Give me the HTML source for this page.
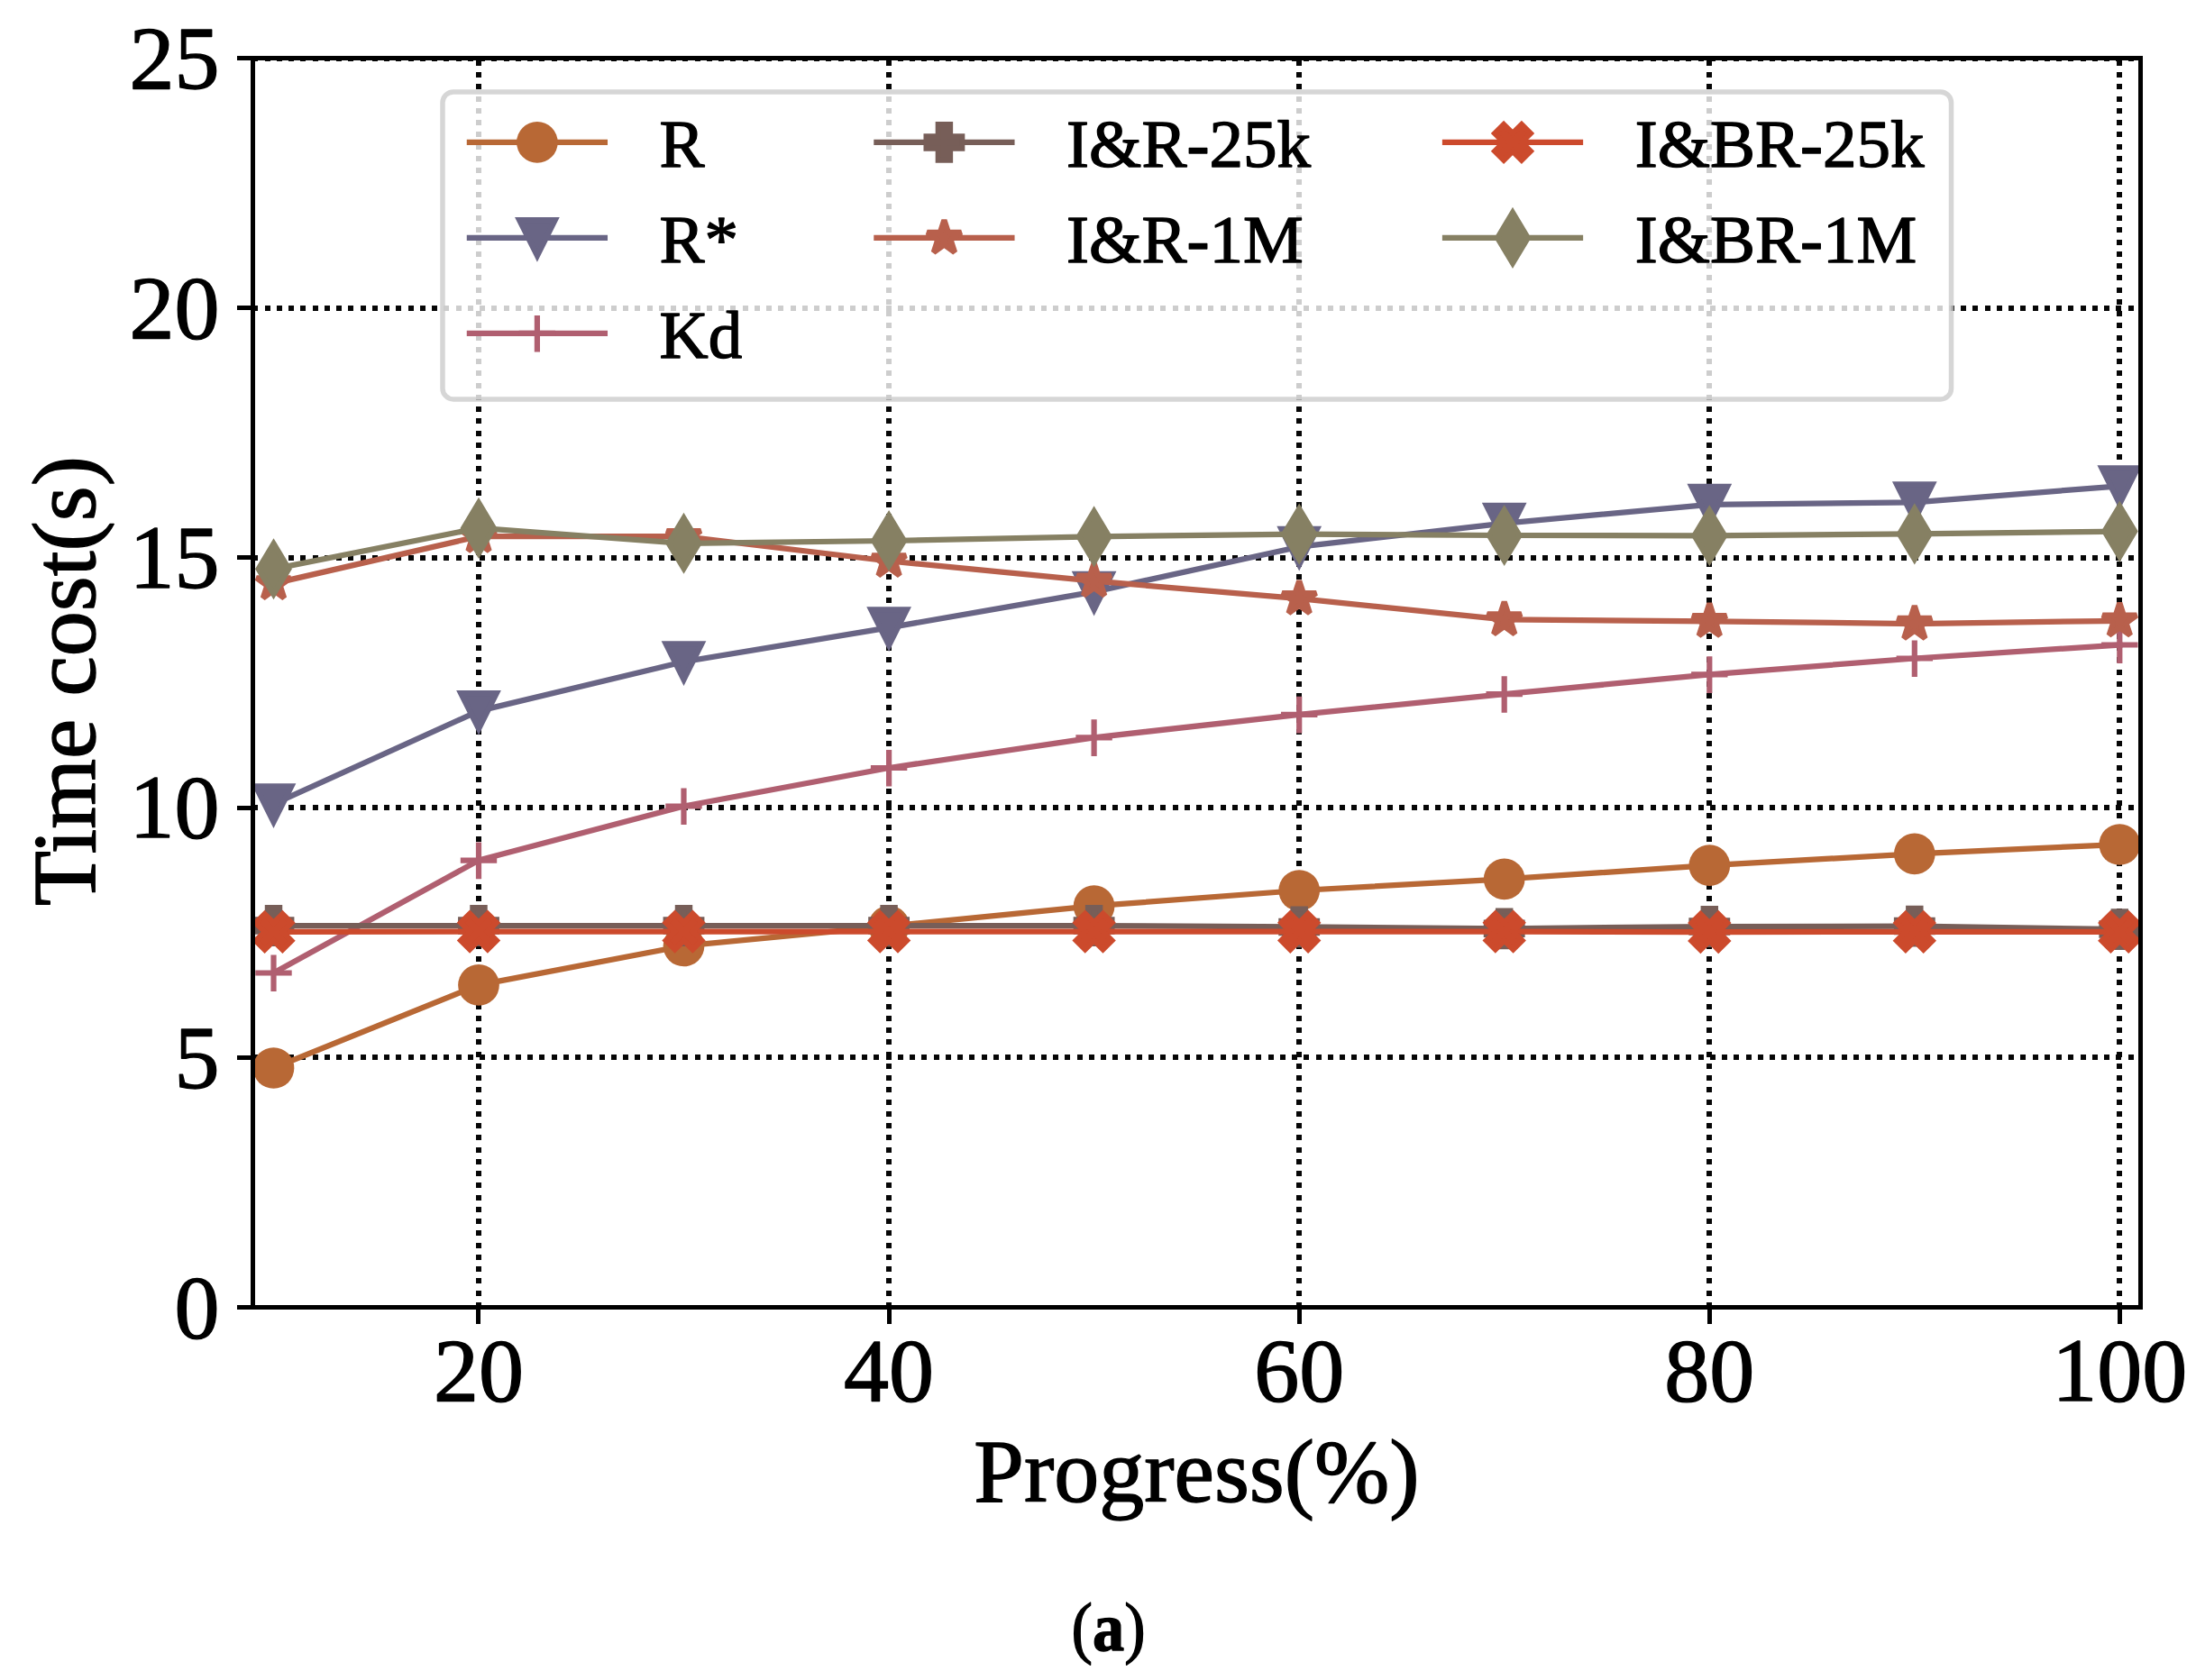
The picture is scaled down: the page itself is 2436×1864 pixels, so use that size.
<!DOCTYPE html>
<html lang="en"><head><meta charset="utf-8"><title>Time cost vs Progress</title>
<style>html,body{margin:0;padding:0;background:#fff}svg{display:block}text{font-family:"Liberation Serif","Times New Roman",serif;fill:#000;stroke:#000;stroke-width:1.4px;stroke-linejoin:round}</style></head><body>
<svg width="2436" height="1864" viewBox="0 0 2436 1864">
<rect width="2436" height="1864" fill="#fff"/>
<defs>
<clipPath id="ax"><rect x="280.5" y="64.5" width="2094.0" height="1386.0"/></clipPath>
<circle id="m0" r="22.85" fill="#b86835"/>
<polygon id="m1" points="0.00,19.80 -19.80,-19.80 19.80,-19.80" fill="#696585" stroke="#696585" stroke-width="6.25" stroke-linejoin="miter"/>
<path id="m2" d="M-20.2 0H20.2M0 -20V20.6" stroke="#b05f70" stroke-width="6.2" fill="none"/>
<polygon id="m3" points="-6.60,-19.80 6.60,-19.80 6.60,-6.60 19.80,-6.60 19.80,6.60 6.60,6.60 6.60,19.80 -6.60,19.80 -6.60,6.60 -19.80,6.60 -19.80,-6.60 -6.60,-6.60" fill="#775e58" stroke="#775e58" stroke-width="6.25" stroke-linejoin="miter"/>
<polygon id="m4" points="0.00,-19.80 -4.45,-6.12 -18.83,-6.12 -7.19,2.34 -11.64,16.02 -0.00,7.56 11.64,16.02 7.19,2.34 18.83,-6.12 4.45,-6.12" fill="#b8604c" stroke="#b8604c" stroke-width="6.25" stroke-linejoin="bevel"/>
<polygon id="m5" points="-9.90,-19.80 0.00,-9.90 9.90,-19.80 19.80,-9.90 9.90,0.00 19.80,9.90 9.90,19.80 0.00,9.90 -9.90,19.80 -19.80,9.90 -9.90,0.00 -19.80,-9.90" fill="#cc4a2c" stroke="#cc4a2c" stroke-width="6.25" stroke-linejoin="miter"/>
<polygon id="m6" points="0.00,-28.00 16.80,0.00 0.00,28.00 -16.80,0.00" fill="#868063" stroke="#868063" stroke-width="6.25" stroke-linejoin="miter"/>
</defs>
<g stroke="#060606" stroke-width="6" stroke-dasharray="6 7.25" fill="none" shape-rendering="crispEdges">
<line x1="531" y1="1450.5" x2="531" y2="64.5" stroke-dashoffset="0.25"/>
<line x1="986" y1="1450.5" x2="986" y2="64.5" stroke-dashoffset="0.25"/>
<line x1="1441" y1="1450.5" x2="1441" y2="64.5" stroke-dashoffset="0.25"/>
<line x1="1896" y1="1450.5" x2="1896" y2="64.5" stroke-dashoffset="0.25"/>
<line x1="2351" y1="1450.5" x2="2351" y2="64.5" stroke-dashoffset="0.25"/>
<line x1="280.5" y1="1173" x2="2374.5" y2="1173" stroke-dashoffset="0.25"/>
<line x1="280.5" y1="896" x2="2374.5" y2="896" stroke-dashoffset="0.25"/>
<line x1="280.5" y1="619" x2="2374.5" y2="619" stroke-dashoffset="0.25"/>
<line x1="280.5" y1="342" x2="2374.5" y2="342" stroke-dashoffset="0.25"/>
<line x1="280.5" y1="65.5" x2="2374.5" y2="65.5" stroke-width="5" stroke-dashoffset="0.25"/>
</g>
<g clip-path="url(#ax)">
<polyline points="303.5,1185.0 531.0,1092.9 758.5,1049.5 986.1,1027.6 1213.6,1005.2 1441.2,988.0 1668.7,975.3 1896.3,960.2 2123.8,947.4 2351.3,937.0" fill="none" stroke="#b86835" stroke-width="6.25" stroke-linejoin="round" stroke-linecap="square"/>
<use href="#m0" x="303.5" y="1185.0"/>
<use href="#m0" x="531.0" y="1092.9"/>
<use href="#m0" x="758.5" y="1049.5"/>
<use href="#m0" x="986.1" y="1027.6"/>
<use href="#m0" x="1213.6" y="1005.2"/>
<use href="#m0" x="1441.2" y="988.0"/>
<use href="#m0" x="1668.7" y="975.3"/>
<use href="#m0" x="1896.3" y="960.2"/>
<use href="#m0" x="2123.8" y="947.4"/>
<use href="#m0" x="2351.3" y="937.0"/>
<polyline points="303.5,892.2 531.0,788.9 758.5,734.2 986.1,696.3 1213.6,656.6 1441.2,606.7 1668.7,580.6 1896.3,559.8 2123.8,557.3 2351.3,539.3" fill="none" stroke="#696585" stroke-width="6.25" stroke-linejoin="round" stroke-linecap="square"/>
<use href="#m1" x="303.5" y="892.2"/>
<use href="#m1" x="531.0" y="788.9"/>
<use href="#m1" x="758.5" y="734.2"/>
<use href="#m1" x="986.1" y="696.3"/>
<use href="#m1" x="1213.6" y="656.6"/>
<use href="#m1" x="1441.2" y="606.7"/>
<use href="#m1" x="1668.7" y="580.6"/>
<use href="#m1" x="1896.3" y="559.8"/>
<use href="#m1" x="2123.8" y="557.3"/>
<use href="#m1" x="2351.3" y="539.3"/>
<polyline points="303.5,1079.5 531.0,954.6 758.5,894.5 986.1,852.0 1213.6,818.3 1441.2,792.8 1668.7,770.2 1896.3,748.3 2123.8,730.5 2351.3,715.5" fill="none" stroke="#b05f70" stroke-width="6.25" stroke-linejoin="round" stroke-linecap="square"/>
<use href="#m2" x="303.5" y="1079.5"/>
<use href="#m2" x="531.0" y="954.6"/>
<use href="#m2" x="758.5" y="894.5"/>
<use href="#m2" x="986.1" y="852.0"/>
<use href="#m2" x="1213.6" y="818.3"/>
<use href="#m2" x="1441.2" y="792.8"/>
<use href="#m2" x="1668.7" y="770.2"/>
<use href="#m2" x="1896.3" y="748.3"/>
<use href="#m2" x="2123.8" y="730.5"/>
<use href="#m2" x="2351.3" y="715.5"/>
<polyline points="303.5,1027.0 531.0,1027.0 758.5,1027.0 986.1,1027.0 1213.6,1027.0 1441.2,1028.4 1668.7,1030.3 1896.3,1028.0 2123.8,1027.6 2351.3,1031.1" fill="none" stroke="#775e58" stroke-width="6.25" stroke-linejoin="round" stroke-linecap="square"/>
<use href="#m3" x="303.5" y="1027.0"/>
<use href="#m3" x="531.0" y="1027.0"/>
<use href="#m3" x="758.5" y="1027.0"/>
<use href="#m3" x="986.1" y="1027.0"/>
<use href="#m3" x="1213.6" y="1027.0"/>
<use href="#m3" x="1441.2" y="1028.4"/>
<use href="#m3" x="1668.7" y="1030.3"/>
<use href="#m3" x="1896.3" y="1028.0"/>
<use href="#m3" x="2123.8" y="1027.6"/>
<use href="#m3" x="2351.3" y="1031.1"/>
<polyline points="303.5,647.4 531.0,595.1 758.5,595.2 986.1,622.5 1213.6,644.7 1441.2,664.2 1668.7,687.4 1896.3,689.3 2123.8,692.1 2351.3,688.8" fill="none" stroke="#b8604c" stroke-width="6.25" stroke-linejoin="round" stroke-linecap="square"/>
<use href="#m4" x="303.5" y="647.4"/>
<use href="#m4" x="531.0" y="595.1"/>
<use href="#m4" x="758.5" y="595.2"/>
<use href="#m4" x="986.1" y="622.5"/>
<use href="#m4" x="1213.6" y="644.7"/>
<use href="#m4" x="1441.2" y="664.2"/>
<use href="#m4" x="1668.7" y="687.4"/>
<use href="#m4" x="1896.3" y="689.3"/>
<use href="#m4" x="2123.8" y="692.1"/>
<use href="#m4" x="2351.3" y="688.8"/>
<polyline points="303.5,1033.9 531.0,1033.6 758.5,1033.6 986.1,1033.6 1213.6,1033.6 1441.2,1033.7 1668.7,1033.6 1896.3,1034.0 2123.8,1033.9 2351.3,1033.9" fill="none" stroke="#cc4a2c" stroke-width="6.25" stroke-linejoin="round" stroke-linecap="square"/>
<use href="#m5" x="303.5" y="1033.9"/>
<use href="#m5" x="531.0" y="1033.6"/>
<use href="#m5" x="758.5" y="1033.6"/>
<use href="#m5" x="986.1" y="1033.6"/>
<use href="#m5" x="1213.6" y="1033.6"/>
<use href="#m5" x="1441.2" y="1033.7"/>
<use href="#m5" x="1668.7" y="1033.6"/>
<use href="#m5" x="1896.3" y="1034.0"/>
<use href="#m5" x="2123.8" y="1033.9"/>
<use href="#m5" x="2351.3" y="1033.9"/>
<polyline points="303.5,631.2 531.0,585.9 758.5,602.8 986.1,600.0 1213.6,595.4 1441.2,592.6 1668.7,594.0 1896.3,594.3 2123.8,592.4 2351.3,589.6" fill="none" stroke="#868063" stroke-width="6.25" stroke-linejoin="round" stroke-linecap="square"/>
<use href="#m6" x="303.5" y="631.2"/>
<use href="#m6" x="531.0" y="585.9"/>
<use href="#m6" x="758.5" y="602.8"/>
<use href="#m6" x="986.1" y="600.0"/>
<use href="#m6" x="1213.6" y="595.4"/>
<use href="#m6" x="1441.2" y="592.6"/>
<use href="#m6" x="1668.7" y="594.0"/>
<use href="#m6" x="1896.3" y="594.3"/>
<use href="#m6" x="2123.8" y="592.4"/>
<use href="#m6" x="2351.3" y="589.6"/>
</g>
<rect x="280.5" y="64.5" width="2094.0" height="1386.0" fill="none" stroke="#000" stroke-width="5"/>
<g stroke="#000" stroke-width="5">
<line x1="530.5" y1="1450.5" x2="530.5" y2="1469"/>
<line x1="986.5" y1="1450.5" x2="986.5" y2="1469"/>
<line x1="1441.5" y1="1450.5" x2="1441.5" y2="1469"/>
<line x1="1896.5" y1="1450.5" x2="1896.5" y2="1469"/>
<line x1="2351.5" y1="1450.5" x2="2351.5" y2="1469"/>
<line x1="280.5" y1="1450.5" x2="263" y2="1450.5"/>
<line x1="280.5" y1="1173.5" x2="263" y2="1173.5"/>
<line x1="280.5" y1="896.5" x2="263" y2="896.5"/>
<line x1="280.5" y1="618.5" x2="263" y2="618.5"/>
<line x1="280.5" y1="341.5" x2="263" y2="341.5"/>
<line x1="280.5" y1="64.5" x2="263" y2="64.5"/>
</g>
<g font-size="100">
<text x="531.0" y="1554" text-anchor="middle">20</text>
<text x="986.1" y="1554" text-anchor="middle">40</text>
<text x="1441.2" y="1554" text-anchor="middle">60</text>
<text x="1896.3" y="1554" text-anchor="middle">80</text>
<text x="2351.3" y="1554" text-anchor="middle">100</text>
<text x="243.5" y="1483.8" text-anchor="end">0</text>
<text x="243.5" y="1206.6" text-anchor="end">5</text>
<text x="243.5" y="929.4" text-anchor="end">10</text>
<text x="243.5" y="652.2" text-anchor="end">15</text>
<text x="243.5" y="375.0" text-anchor="end">20</text>
<text x="243.5" y="97.8" text-anchor="end">25</text>
<text x="1327.5" y="1666" text-anchor="middle">Progress(%)</text>
<text transform="translate(105,755.5) rotate(-90)" text-anchor="middle">Time cost(s)</text>
</g>
<g>
<rect x="491" y="101.9" width="1673.5" height="341" rx="12" ry="12" fill="#fff" fill-opacity="0.8" stroke="#ccc" stroke-opacity="0.8" stroke-width="5.5"/>
<line x1="520.9" y1="157.9" x2="670.9" y2="157.9" stroke="#b86835" stroke-width="6.25" stroke-linecap="square"/>
<use href="#m0" x="595.9" y="157.9"/>
<text x="731.5999999999999" y="185.1" font-size="75" stroke-width="1.1">R</text>
<line x1="520.9" y1="263.9" x2="670.9" y2="263.9" stroke="#696585" stroke-width="6.25" stroke-linecap="square"/>
<use href="#m1" x="595.9" y="263.9"/>
<text x="731.5999999999999" y="291.1" font-size="75" stroke-width="1.1">R*</text>
<line x1="520.9" y1="369.9" x2="670.9" y2="369.9" stroke="#b05f70" stroke-width="6.25" stroke-linecap="square"/>
<use href="#m2" x="595.9" y="369.9"/>
<text x="731.5999999999999" y="397.1" font-size="75" stroke-width="1.1">Kd</text>
<line x1="972.4" y1="157.9" x2="1122.4" y2="157.9" stroke="#775e58" stroke-width="6.25" stroke-linecap="square"/>
<use href="#m3" x="1047.4" y="157.9"/>
<text x="1183.1" y="185.1" font-size="75" stroke-width="1.1">I&amp;R-25k</text>
<line x1="972.4" y1="263.9" x2="1122.4" y2="263.9" stroke="#b8604c" stroke-width="6.25" stroke-linecap="square"/>
<use href="#m4" x="1047.4" y="263.9"/>
<text x="1183.1" y="291.1" font-size="75" stroke-width="1.1">I&amp;R-1M</text>
<line x1="1603" y1="157.9" x2="1753" y2="157.9" stroke="#cc4a2c" stroke-width="6.25" stroke-linecap="square"/>
<use href="#m5" x="1678" y="157.9"/>
<text x="1813.7" y="185.1" font-size="75" stroke-width="1.1">I&amp;BR-25k</text>
<line x1="1603" y1="263.9" x2="1753" y2="263.9" stroke="#868063" stroke-width="6.25" stroke-linecap="square"/>
<use href="#m6" x="1678" y="263.9"/>
<text x="1813.7" y="291.1" font-size="75" stroke-width="1.1">I&amp;BR-1M</text>
</g>
<text x="1229.6" y="1830.6" font-size="75.6" stroke-width="0.3" text-anchor="middle" textLength="82" lengthAdjust="spacingAndGlyphs">(<tspan font-weight="bold">a</tspan>)</text>
</svg></body></html>
